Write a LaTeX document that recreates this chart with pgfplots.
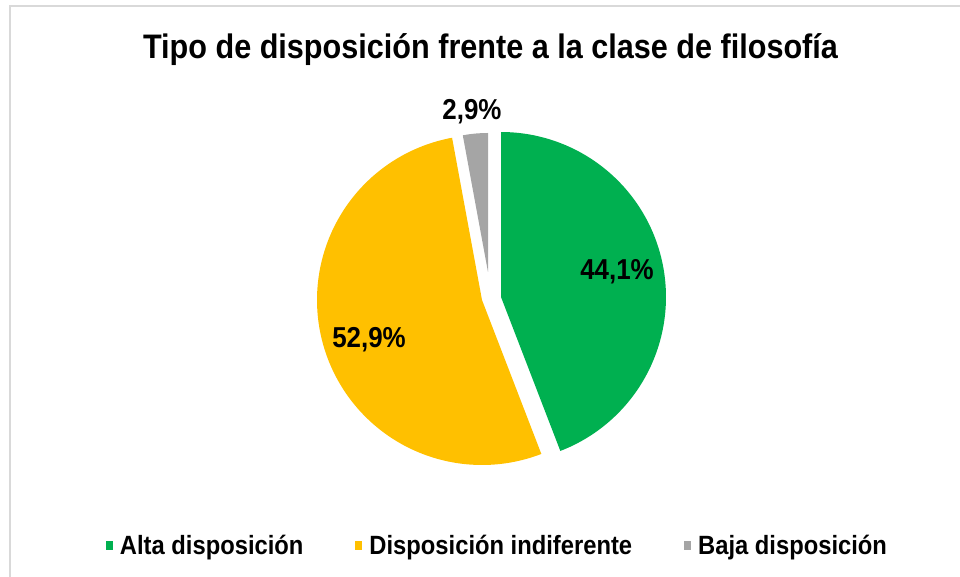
\documentclass[border=0pt]{standalone}
\usepackage{pgfplots}
\pgfplotsset{compat=1.18}
\usepackage{fontspec}
\setmainfont{Liberation Sans}[FakeStretch=0.9]
\definecolor{cgreen}{HTML}{00B050}
\definecolor{cyellow}{HTML}{FFC000}
\definecolor{cgray}{HTML}{A5A5A5}
\definecolor{cframe}{HTML}{D9D9D9}
\begin{document}
\begin{tikzpicture}
% data (percent)
\def\va{44.1}% Alta disposicion
\def\vb{52.9}% Disposicion indiferente
\def\vc{2.9}% Baja disposicion
\pgfmathsetmacro{\tot}{\va+\vb+\vc}
\pgfmathsetmacro{\k}{360/\tot}
\pgfmathsetmacro{\aA}{90-\k*\va}
\pgfmathsetmacro{\aB}{90+\k*\vc}
\pgfmathsetmacro{\aC}{\aB+\k*\vb}
\begin{axis}[
  scale only axis, width=480pt, height=288.5pt,
  xmin=0, xmax=960, ymin=0, ymax=577, y dir=reverse,
  axis lines=none, clip=false,
  legend columns=3,
  legend image code/.code={\fill[#1] (0pt,-2pt) rectangle (3.5pt,2.5pt);},
  legend style={draw=none, fill=none, inner sep=0pt, outer sep=0pt,
    at={(axis cs:496.5,546)}, anchor=center,
    font=\fontsize{13.2}{15}\selectfont\bfseries,
    nodes={inner sep=0pt, outer sep=0pt},
    /tikz/every odd column/.style={column sep=3.5pt},
    /tikz/every even column/.style={column sep=26pt}},
]
\draw[cframe, line width=1pt] (10,577) -- (10,6) -- (960,6);
\addplot[fill=cgreen, draw=none, domain=\aA:90, samples=120, variable=\t]
  ({501+165*cos(\t)}, {297-165*sin(\t)}) -- (501,297) -- cycle;
\addlegendentry{Alta disposición}
\addplot[fill=cyellow, draw=none, domain=\aB:\aC, samples=140, variable=\t]
  ({482+165*cos(\t)}, {300-165*sin(\t)}) -- (482,300) -- cycle;
\addlegendentry{Disposición indiferente}
\addplot[fill=cgray, draw=none, domain=90:\aB, samples=20, variable=\t]
  ({488+139*cos(\t)}, {272-139*sin(\t)}) -- (488,272) -- cycle;
\addlegendentry{Baja disposición}
\node[font=\fontsize{17}{20}\selectfont\bfseries] at (490.5,50) {Tipo de disposición frente a la clase de filosofía};
\node[font=\fontsize{14.4}{16}\selectfont\bfseries] at (617,272) {44,1\%};
\node[font=\fontsize{14.4}{16}\selectfont\bfseries] at (369,340) {52,9\%};
\node[font=\fontsize{14.4}{16}\selectfont\bfseries] at (472,112) {2,9\%};
\end{axis}
\pgfresetboundingbox
\path[use as bounding box] (current axis.south west) rectangle (current axis.north east);
\end{tikzpicture}
\end{document}
